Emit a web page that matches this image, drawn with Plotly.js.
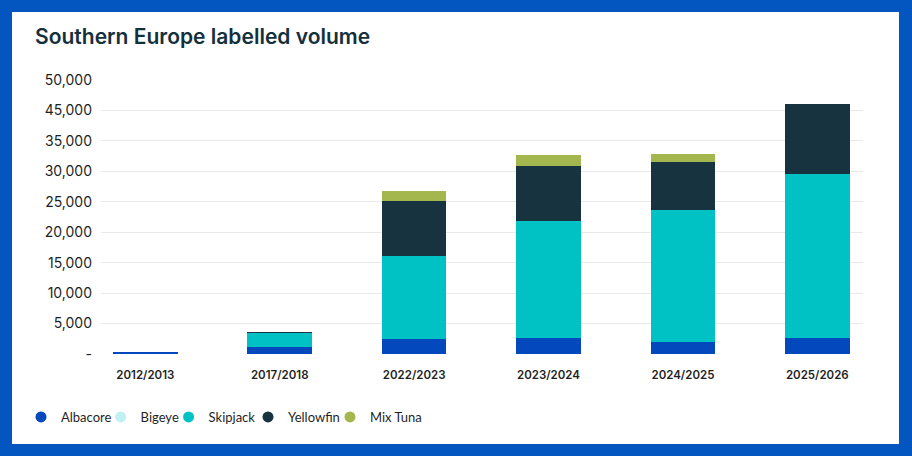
<!DOCTYPE html>
<html>
<head>
<meta charset="utf-8">
<script src="https://cdn.plot.ly/plotly-3.0.1.min.js"></script>
<style>
  html, body { margin: 0; padding: 0; width: 912px; height: 456px; background: #0356c0; overflow: hidden; }
  #chart { position: absolute; left: 12px; top: 12px; width: 887px; height: 432px; background: #ffffff; }
</style>
</head>
<body>
<div id="chart"></div>
<script>
// ---- data ----
const seasons = ['2012/2013', '2017/2018', '2022/2023', '2023/2024', '2024/2025', '2025/2026'];
const albacore  = [300, 1100, 2460, 2580, 2020, 2580];
const bigeye    = [0, 0, 0, 0, 0, 0];
const skipjack  = [0, 2300, 13630, 19270, 21630, 26990];
const yellowfin = [0, 210, 9030, 9030, 7930, 11500];
const mixTuna   = [0, 0, 1640, 1760, 1210, 0];
const seriesNames = ['Albacore', 'Bigeye', 'Skipjack', 'Yellowfin', 'Mix Tuna'];
const yTickVals = [0, 5000, 10000, 15000, 20000, 25000, 30000, 35000, 40000, 45000];
const yTickText = ['-', '5,000', '10,000', '15,000', '20,000', '25,000', '30,000', '35,000', '45,000', '50,000'];

const colors = ['#0349bd', '#bff1f3', '#00c2c5', '#17333f', '#a4b64e'];
const seriesValues = [albacore, bigeye, skipjack, yellowfin, mixTuna];
// legend item left edges (paper fraction of plot width)
const legendX = [-0.1050, -0.0005, 0.0887, 0.1929, 0.3005];
const legendIds = ['legend', 'legend2', 'legend3', 'legend4', 'legend5'];

const traces = [];
seriesValues.forEach((vals, i) => {
  traces.push({
    type: 'bar', x: seasons, y: vals, name: seriesNames[i],
    marker: { color: colors[i], line: { width: 0 } },
    showlegend: false, legendgroup: seriesNames[i], hoverinfo: 'skip'
  });
});
seriesNames.forEach((n, i) => {
  traces.push({
    type: 'scatter', mode: 'markers', x: [null], y: [null], name: n,
    marker: { color: colors[i], size: 11, symbol: 'circle' },
    legendgroup: n, showlegend: true, hoverinfo: 'skip', legend: legendIds[i]
  });
});

const layout = {
  width: 887, height: 432,
  paper_bgcolor: '#ffffff', plot_bgcolor: '#ffffff',
  margin: { l: 89, r: 36, t: 68, b: 90, autoexpand: false },
  font: { family: 'Inter, "Noto Sans", sans-serif', color: '#1f1f1f' },
  title: {
    text: 'Southern Europe labelled volume',
    x: 0.026, xref: 'container', xanchor: 'left', y: 1, yref: 'container', yanchor: 'top',
    pad: { t: 17 },
    font: { family: 'Inter, sans-serif', size: 21, color: '#13303c', weight: 600 }
  },
  barmode: 'stack', bargap: 0.52,
  xaxis: {
    type: 'category', range: [-0.33, 5.34], showgrid: false, zeroline: false,
    showline: false, ticks: '', fixedrange: true, automargin: false,
    tickfont: { size: 11.5, color: '#1f1f1f', weight: 600 },
    ticklabelstandoff: 12
  },
  yaxis: {
    range: [0, 45000], tickmode: 'array', tickvals: yTickVals, ticktext: yTickText,
    showgrid: true, gridcolor: '#e9e9e9', gridwidth: 1, zeroline: false,
    showline: false, ticks: '', fixedrange: true, automargin: false,
    tickfont: { size: 14, color: '#1f1f1f' },
    ticklabelstandoff: 8
  },
  showlegend: true
};
legendIds.forEach((id, i) => {
  layout[id] = {
    orientation: 'h', x: legendX[i], xanchor: 'left', y: -0.175, yanchor: 'top',
    font: { family: 'Lato, Inter, sans-serif', size: 13, color: '#1f1f1f' },
    itemwidth: 30, bgcolor: 'rgba(0,0,0,0)', borderwidth: 0
  };
});

Plotly.newPlot('chart', traces, layout, { displayModeBar: false, staticPlot: true });
</script>
</body>
</html>
